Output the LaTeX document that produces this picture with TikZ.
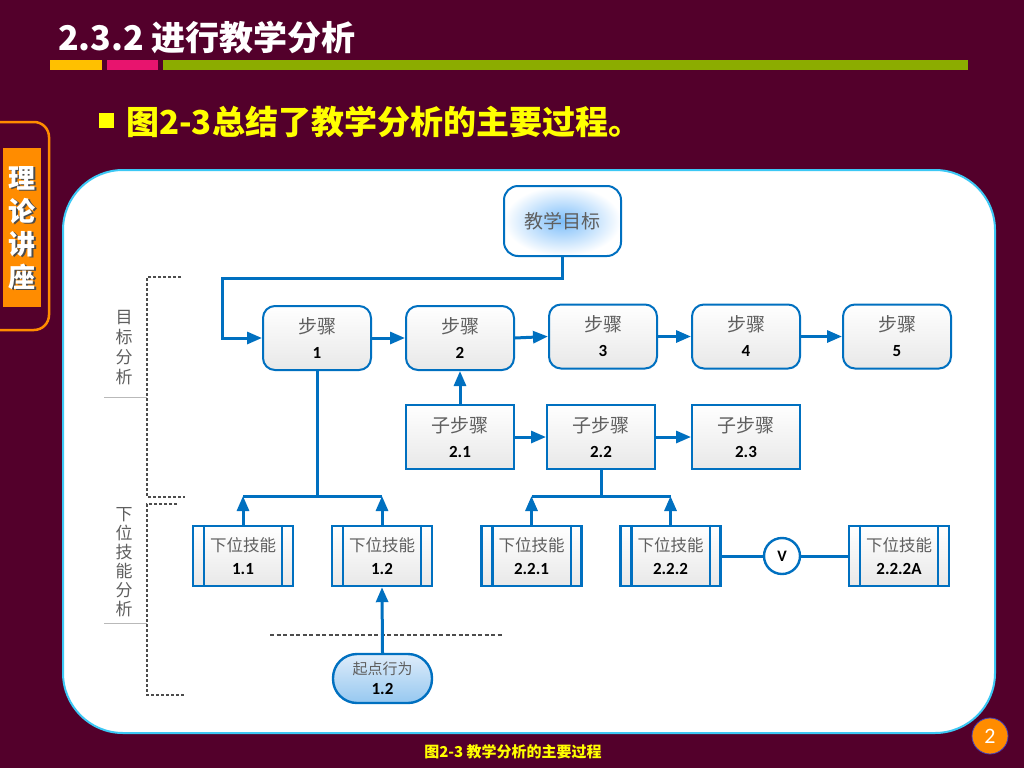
\documentclass[tikz,border=0pt]{standalone}
\usepackage{fontspec}
\setmainfont{Carlito}
\newfontfamily\cjk{Noto Sans CJK SC}
\usetikzlibrary{arrows.meta,calc}
\definecolor{bg}{RGB}{83,0,43}
\definecolor{lineblue}{RGB}{0,112,192}
\definecolor{tgray}{RGB}{95,95,95}
\definecolor{torange}{RGB}{255,140,0}
\definecolor{barorange}{RGB}{255,192,0}
\definecolor{barpink}{RGB}{232,20,110}
\definecolor{bargreen}{RGB}{140,172,0}
\definecolor{panelb}{RGB}{60,200,245}
\definecolor{yel}{RGB}{255,255,0}
\definecolor{glow}{RGB}{125,190,250}
\definecolor{stop}{RGB}{222,236,250}
\definecolor{sbot}{RGB}{150,200,240}
\newcommand\zh[1]{{\cjk\color{tgray}#1}}
\newcommand\nm[1]{{\fontsize{17}{20}\selectfont\bfseries\color{black}#1}}
\tikzset{
  conn/.style={draw=lineblue,line width=3pt},
  arr/.style={conn,-{Triangle[length=15pt,width=12pt]}},
  boxbase/.style={draw=lineblue,line width=2pt,align=center,inner sep=0pt,
    top color=white,bottom color=gray!18},
  stepbox/.style={boxbase,rounded corners=12pt,minimum width=108pt,minimum height=64pt,
    font=\fontsize{19}{25}\selectfont},
  subbox/.style={boxbase,minimum width=108pt,minimum height=64pt,
    font=\fontsize{19}{25}\selectfont},
  skillbox/.style={boxbase,line width=2.4pt,minimum width=100pt,minimum height=60pt,
    font=\fontsize{16.5}{23}\selectfont},
  brk/.style={draw=gray!60!black,line width=2.2pt,dash pattern=on 3pt off 2pt},
  sidelab/.style={text=tgray,align=center,inner sep=0pt},
}
\begin{document}
\begin{tikzpicture}[x=1pt,y=-1pt]
\useasboundingbox (0,0) rectangle (1024,768);
\fill[bg] (0,0) rectangle (1024,768);
% title
\node[anchor=west,text=white,font=\cjk\bfseries\fontsize{34}{34}\selectfont,inner sep=0pt] (title) at (58,37) {2.3.2 进行教学分析};
\fill[barorange] (50,60) rectangle (102,70);
\fill[barpink] (107,60) rectangle (158,70);
\fill[bargreen] (163,60) rectangle (968,70);
% subtitle
\fill[yel] (99,113) rectangle (114,128);
\node[anchor=west,text=yel,font=\cjk\bfseries\fontsize{33}{33}\selectfont,inner sep=0pt] (sub) at (126,122) {图2-3总结了教学分析的主要过程。};
% left tab
\draw[torange,line width=2.5pt,rounded corners=15pt] (-10,122) -- (49,122) -- (49,330) -- (-10,330);
\fill[torange] (3,148) rectangle (41,307);
\node[text=black!70,font=\cjk\bfseries\fontsize{27}{33}\selectfont,align=center,inner sep=0pt] (tabs) at (23.5,229.5) {理\\论\\讲\\座};
\node[text=white,font=\cjk\bfseries\fontsize{27}{33}\selectfont,align=center,inner sep=0pt] (tab) at (22,228) {理\\论\\讲\\座};
% panel
\draw[draw=panelb,line width=2pt,fill=white,rounded corners=60pt] (63,170) rectangle (995,733);
% page number
\node[circle,fill=torange,draw=gray!50!blue,line width=0.8pt,minimum size=36pt,inner sep=0pt,text=white,font=\fontsize{22}{22}\selectfont] (pg) at (990,736) {2};
% caption
\node[text=yel,font=\cjk\bfseries\fontsize{15}{15}\selectfont,inner sep=0pt] (cap) at (513,752) {图2-3 教学分析的主要过程};
% brackets
\draw[brk] (181,277) -- (147,277) -- (147,497) -- (185,497);
\draw[brk] (177,504) -- (147,504) -- (147,695) -- (185,695);
\draw[gray!55,line width=0.8pt] (104,397) -- (147,397);
\draw[gray!55,line width=0.8pt] (104,623) -- (147,623);
\node[sidelab,font=\cjk\fontsize{17}{20}\selectfont] (lab1) at (124,348) {目\\标\\分\\析};
\node[sidelab,font=\cjk\fontsize{17}{19}\selectfont] (lab2) at (124,562.5) {下\\位\\技\\能\\分\\析};
% dashed line
\coordinate (d1) at (270,635);
\coordinate (d2) at (502,635);
\draw[gray!60!black,line width=1.5pt,dash pattern=on 4pt off 2.5pt] (d1) -- (d2);
% goal
\node[draw=lineblue,line width=2pt,rounded corners=14pt,minimum width=117pt,minimum height=70pt,inner sep=0pt,
  inner color=glow,outer color=white,font=\fontsize{19}{24}\selectfont] (goal) at (562.5,221) {\zh{教学目标}};
% steps
\node[stepbox] (s1) at (317,338) {\zh{步骤}\\\nm{1}};
\node[stepbox] (s2) at (460,338) {\zh{步骤}\\\nm{2}};
\node[stepbox] (s3) at (603,336.5) {\zh{步骤}\\\nm{3}};
\node[stepbox] (s4) at (746,336.5) {\zh{步骤}\\\nm{4}};
\node[stepbox] (s5) at (897,336.5) {\zh{步骤}\\\nm{5}};
% sub steps
\node[subbox] (t1) at (460,437) {\zh{子步骤}\\\nm{2.1}};
\node[subbox] (t2) at (601,437) {\zh{子步骤}\\\nm{2.2}};
\node[subbox] (t3) at (746,437) {\zh{子步骤}\\\nm{2.3}};
% skills
\node[skillbox] (k11) at (243,556) {\zh{下位技能}\\\nm{1.1}};
\node[skillbox] (k12) at (382,556) {\zh{下位技能}\\\nm{1.2}};
\node[skillbox] (k221) at (531.5,556) {\zh{下位技能}\\\nm{2.2.1}};
\node[skillbox] (k222) at (670.5,556) {\zh{下位技能}\\\nm{2.2.2}};
\node[skillbox] (k222a) at (899,556) {\zh{下位技能}\\\nm{2.2.2A}};
\foreach \n in {k11,k12,k221,k222,k222a}{
  \draw[lineblue,line width=2.4pt] ($(\n.north west)+(12,0)$) -- ($(\n.south west)+(12,0)$);
  \draw[lineblue,line width=2.4pt] ($(\n.north east)+(-12,0)$) -- ($(\n.south east)+(-12,0)$);
}
\node[circle,draw=lineblue,line width=2.4pt,fill=white,minimum size=36pt,inner sep=0pt,font=\fontsize{16}{16}\selectfont\bfseries] (v) at (782,556) {V};
% start behaviour
\node[draw=lineblue,line width=2.4pt,rounded corners=24pt,minimum width=99pt,minimum height=49pt,inner sep=0pt,
  top color=stop,bottom color=sbot,align=center,font=\fontsize{15}{20}\selectfont] (st) at (382.5,678.5) {\zh{起点行为}\\\nm{1.2}};
% connectors
\coordinate (g1) at (222,278);
\draw[arr] (goal.south) |- (g1) |- (s1.west);
\draw[arr] (s1.east) -- (s2.west);
\draw[arr] (s2.east) -- (s3.west);
\draw[arr] (s3.east) -- (s4.west);
\draw[arr] (s4.east) -- (s5.west);
\draw[arr] (t1.north) -- (s2.south);
\draw[arr] (t1.east) -- (t2.west);
\draw[arr] (t2.east) -- (t3.west);
\coordinate (j1) at (317,496);
\coordinate (j2) at (601,496);
\draw[conn] (s1.south) -- (j1);
\draw[conn] (k11.north |- j1) -- (k12.north |- j1);
\draw[arr] (k11.north) -- (k11.north |- j1);
\draw[arr] (k12.north) -- (k12.north |- j1);
\draw[conn] (t2.south) -- (j2);
\draw[conn] (k221.north |- j2) -- (k222.north |- j2);
\draw[arr] (k221.north) -- (k221.north |- j2);
\draw[arr] (k222.north) -- (k222.north |- j2);
\draw[conn] (k222.east) -- (v.west);
\draw[conn] (v.east) -- (k222a.west);
\draw[arr] (st.north) -- (k12.south);
\end{tikzpicture}
\end{document}
